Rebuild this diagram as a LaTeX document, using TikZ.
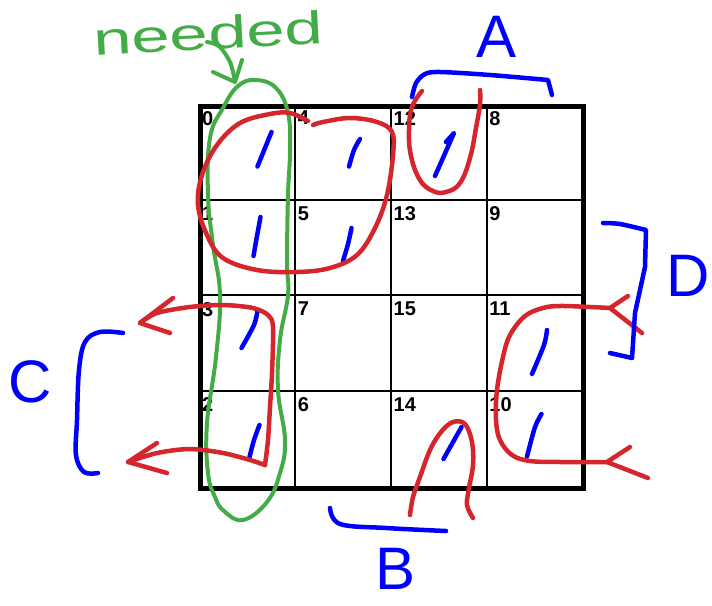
\documentclass[tikz,border=0pt]{standalone}
\usepackage{fontspec}
\setmainfont{Liberation Sans}
\newfontfamily\widehand{Liberation Sans}[FakeStretch=1.5]
\definecolor{inkred}{RGB}{212,38,44}
\definecolor{inkblue}{RGB}{0,0,250}
\definecolor{inkgreen}{RGB}{68,172,70}
\tikzset{
  redink/.style={draw=inkred, line width=4.5pt, line cap=round, line join=round},
  blueink/.style={draw=inkblue, line width=4.5pt, line cap=round, line join=round},
  greenink/.style={draw=inkgreen, line width=4pt, line cap=round, line join=round},
  cellnum/.style={anchor=north west, inner sep=0pt, font=\bfseries\fontsize{20}{20}\selectfont},
  letter/.style={text=inkblue, inner sep=0pt, font=\fontsize{60}{60}\selectfont},
}
\begin{document}
\begin{tikzpicture}[x=1pt,y=-1pt]
\useasboundingbox (0,0) rectangle (712,605);
% grid
\foreach \xx in {295,391,487} \draw[line width=2.5pt] (\xx,106) -- (\xx,488);
\foreach \yy in {200,295,391} \draw[line width=2.5pt] (200,\yy) -- (583,\yy);
\draw[line width=5pt] (200,106) rectangle (583,488);
% cell numbers
\foreach \lab/\c/\r in {0/0/0, 4/1/0, 12/2/0, 8/3/0, 1/0/1, 5/1/1, 13/2/1, 9/3/1, 3/0/2, 7/1/2, 15/2/2, 11/3/2, 2/0/3, 6/1/3, 14/2/3, 10/3/3}
  \node[cellnum] (n\lab) at ({202+95.75*\c},{111+95.5*\r}) {\lab};
% blue ones
\draw[blueink] plot[smooth] coordinates {(271.5,132) (265,148) (257.5,166.5)};
\draw[blueink] plot[smooth] coordinates {(360,139) (354,150) (349,166.5)};
\draw[blueink] (446,142) -- (454,133) -- (435,176);
\draw[blueink] plot[smooth] coordinates {(260.5,217) (257,236) (253.5,256)};
\draw[blueink] plot[smooth] coordinates {(351.5,228) (348,244) (343,261)};
\draw[blueink] plot[smooth] coordinates {(257.5,311) (254,325) (241.5,348)};
\draw[blueink] plot[smooth] coordinates {(259.5,425) (254,440) (249.5,457)};
\draw[blueink] (461.5,427) -- (443.5,459);
\draw[blueink] plot[smooth] coordinates {(547,330) (544,345) (532,374)};
\draw[blueink] plot[smooth] coordinates {(541.5,414) (535,427) (527,456.5)};
% green loop and arrow
\draw[greenink] plot[smooth cycle, tension=0.7] coordinates {(256,80) (276,88) (288,113) (290,150) (288,195) (287,262) (288,295) (280,340) (278,390) (285,440) (280,473) (267,502) (243,520) (224,511) (215,497) (208,473) (207,423) (216,357) (220,295) (213,245) (208,195) (210,138) (223,108) (238,86)};
\draw[greenink] plot[smooth] coordinates {(207,42) (219,46) (230,62) (235,81)};
\draw[greenink] (213,72) -- (235,82) -- (242,60);
\node[text=inkgreen, inner sep=0pt, rotate=3, font=\widehand\fontsize{46}{46}\selectfont, anchor=base west] (needed) at (94,56) {needed};
% red loops
\draw[redink] plot[smooth, tension=0.6] coordinates {(308,121) (290,113) (270,114) (240,123) (217,145) (202,175) (198,205) (207,235) (223,258) (257,270) (297,272) (330,268) (357,255) (375,228) (387,195) (393,155) (392,132) (377,122) (350,118) (323,122) (313,125)};
\draw[redink] plot[smooth, tension=0.7] coordinates {(422,91) (412,107) (409,130) (411,156) (420,180) (433,191) (446,192) (460,183) (470,158) (476,128) (480,104) (480,90)};
\draw[redink] plot[smooth, tension=0.5] coordinates {(140,323) (157,313) (190,307) (223,305) (253,308) (268,315) (273,327) (272,373) (270,407) (268,440) (265,465)};
\draw[redink] plot[smooth, tension=0.5] coordinates {(265,465) (250,460) (223,453) (190,449) (157,453) (128,462)};
\draw[redink] (173,298) -- (140,323) -- (170,333);
\draw[redink] (157,443) -- (128,462) -- (167,473);
\draw[redink] plot[smooth, tension=0.6] coordinates {(610,308) (590,307) (560,306) (543,308) (525,316) (510,335) (503,357) (497,390) (496,420) (500,440) (512,455) (530,461) (560,462) (590,462) (607,462)};
\draw[redink] (628,296) -- (610,308) -- (642,333);
\draw[redink] (630,447) -- (607,462) -- (648,478);
\draw[redink] plot[smooth, tension=0.6] coordinates {(410,515) (413,497) (420,477) (430,450) (441,432) (453,422) (465,424) (472,442) (473,465) (469,488) (467,505) (473,518)};
% blue brackets
\draw[blueink] plot[smooth, tension=0.5] coordinates {(412,97) (416,83) (425,74) (440,72) (490,75) (548,80)} -- (552,95);
\draw[blueink] plot[smooth, tension=0.5] coordinates {(603,223) (620,224) (646,230)} -- (645,267) -- (635,313) -- (632,358) -- (610,353);
\draw[blueink] plot[smooth, tension=0.6] coordinates {(123,333) (100,332) (85,342) (79,370) (77,420) (76,455) (84,472) (98,473)};
\draw[blueink] plot[smooth, tension=0.6] coordinates {(330,508) (340,524) (386,528) (446,531)};
% blue letters
\node[letter] (A) at (497,37) {A};
\node[letter] (B) at (396,569) {B};
\node[letter] (C) at (30,382) {C};
\node[letter] (D) at (688,276) {D};
\end{tikzpicture}
\end{document}
